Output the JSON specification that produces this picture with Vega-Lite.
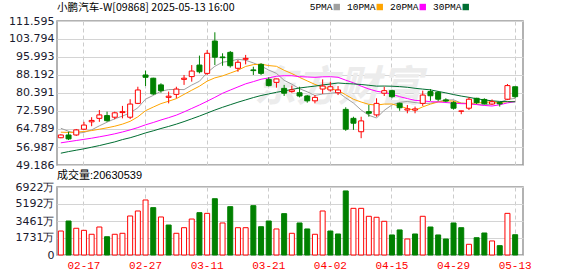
{
"$schema": "https://vega.github.io/schema/vega-lite/v6.json",
"padding": {"left": 5, "top": 2, "right": 5, "bottom": 0},
"spacing": -2,
"background": "white",
"datasets": {"k": [
{"d":"02-12","o":61.0,"h":62.5,"l":60.8,"c":62.2,"v":2440,"up":true,"5PMA":65.1,"10PMA":63.4,"20PMA":58.8,"30PMA":54.3},
{"d":"02-13","o":62.2,"h":63.6,"l":60.0,"c":60.5,"v":3460,"up":false,"5PMA":63.8,"10PMA":63.3,"20PMA":59.3,"30PMA":55.0},
{"d":"02-14","o":62.2,"h":64.8,"l":61.8,"c":64.4,"v":2720,"up":true,"5PMA":62.9,"10PMA":63.4,"20PMA":59.8,"30PMA":55.6},
{"d":"02-17","o":64.7,"h":67.9,"l":64.4,"c":66.5,"v":2510,"up":true,"5PMA":63.3,"10PMA":63.7,"20PMA":60.3,"30PMA":56.2},
{"d":"02-18","o":67.9,"h":69.9,"l":66.0,"c":68.5,"v":2110,"up":true,"5PMA":64.42,"10PMA":64.1,"20PMA":60.8,"30PMA":56.9},
{"d":"02-19","o":69.4,"h":73.0,"l":67.9,"c":70.9,"v":2850,"up":true,"5PMA":66.16,"10PMA":64.7,"20PMA":61.4,"30PMA":57.6},
{"d":"02-20","o":70.6,"h":72.3,"l":67.9,"c":68.4,"v":1860,"up":false,"5PMA":67.74,"10PMA":65.3,"20PMA":62.0,"30PMA":58.4},
{"d":"02-21","o":69.9,"h":72.3,"l":69.0,"c":71.8,"v":2110,"up":true,"5PMA":69.22,"10PMA":66.0,"20PMA":62.7,"30PMA":59.2},
{"d":"02-24","o":71.9,"h":74.8,"l":69.4,"c":72.3,"v":2210,"up":true,"5PMA":70.38,"10PMA":66.9,"20PMA":63.5,"30PMA":60.2},
{"d":"02-25","o":69.9,"h":77.7,"l":69.1,"c":75.6,"v":3970,"up":true,"5PMA":71.8,"10PMA":68.11,"20PMA":64.4,"30PMA":61.0},
{"d":"02-26","o":75.9,"h":83.1,"l":75.6,"c":81.7,"v":4480,"up":true,"5PMA":73.96,"10PMA":70.06,"20PMA":65.4,"30PMA":62.0},
{"d":"02-27","o":88.2,"h":90.1,"l":83.4,"c":87.2,"v":5600,"up":true,"5PMA":77.72,"10PMA":72.73,"20PMA":66.6,"30PMA":63.1},
{"d":"02-28","o":86.8,"h":87.0,"l":79.5,"c":80.0,"v":4820,"up":false,"5PMA":79.36,"10PMA":74.29,"20PMA":67.6,"30PMA":64.0},
{"d":"03-03","o":83.9,"h":84.6,"l":80.5,"c":81.4,"v":3870,"up":true,"5PMA":81.18,"10PMA":75.78,"20PMA":68.7,"30PMA":65.0},
{"d":"03-04","o":78.5,"h":81.0,"l":75.9,"c":79.0,"v":3050,"up":false,"5PMA":81.86,"10PMA":76.83,"20PMA":69.7,"30PMA":65.9},
{"d":"03-05","o":79.8,"h":83.1,"l":78.1,"c":82.1,"v":2210,"up":true,"5PMA":81.94,"10PMA":77.95,"20PMA":70.8,"30PMA":66.9},
{"d":"03-06","o":86.3,"h":88.2,"l":83.9,"c":86.8,"v":2780,"up":true,"5PMA":81.86,"10PMA":79.79,"20PMA":72.2,"30PMA":68.0},
{"d":"03-07","o":87.5,"h":92.5,"l":85.3,"c":89.9,"v":3660,"up":true,"5PMA":83.84,"10PMA":81.6,"20PMA":73.7,"30PMA":69.2},
{"d":"03-10","o":92.5,"h":96.6,"l":88.9,"c":89.6,"v":4310,"up":false,"5PMA":85.48,"10PMA":83.33,"20PMA":75.2,"30PMA":70.4},
{"d":"03-11","o":88.9,"h":99.0,"l":88.2,"c":97.6,"v":4240,"up":true,"5PMA":89.2,"10PMA":85.53,"20PMA":76.82,"30PMA":71.7},
{"d":"03-12","o":102.9,"h":106.7,"l":92.5,"c":95.9,"v":5730,"up":false,"5PMA":91.96,"10PMA":86.95,"20PMA":78.5,"30PMA":73.0},
{"d":"03-13","o":96.0,"h":97.6,"l":92.2,"c":95.7,"v":3260,"up":true,"5PMA":93.74,"10PMA":87.8,"20PMA":80.27,"30PMA":74.2},
{"d":"03-14","o":98.0,"h":98.6,"l":91.4,"c":92.2,"v":4920,"up":false,"5PMA":94.2,"10PMA":89.02,"20PMA":81.66,"30PMA":75.3},
{"d":"03-17","o":91.1,"h":94.7,"l":89.6,"c":93.7,"v":2780,"up":true,"5PMA":95.02,"10PMA":90.25,"20PMA":83.02,"30PMA":76.4},
{"d":"03-18","o":95.0,"h":96.9,"l":92.8,"c":95.4,"v":2780,"up":true,"5PMA":94.58,"10PMA":91.89,"20PMA":84.36,"30PMA":77.4},
{"d":"03-19","o":90.4,"h":91.8,"l":88.2,"c":90.1,"v":5020,"up":false,"5PMA":93.42,"10PMA":92.69,"20PMA":85.32,"30PMA":78.4},
{"d":"03-20","o":92.8,"h":93.3,"l":88.2,"c":88.9,"v":2880,"up":false,"5PMA":92.06,"10PMA":92.9,"20PMA":86.35,"30PMA":79.3},
{"d":"03-21","o":86.3,"h":87.2,"l":83.2,"c":83.6,"v":3460,"up":false,"5PMA":90.34,"10PMA":92.27,"20PMA":86.94,"30PMA":80.0},
{"d":"03-24","o":85.0,"h":86.6,"l":82.7,"c":86.5,"v":2650,"up":true,"5PMA":88.9,"10PMA":91.96,"20PMA":87.65,"30PMA":80.7},
{"d":"03-25","o":82.4,"h":83.9,"l":79.1,"c":80.3,"v":4210,"up":false,"5PMA":85.88,"10PMA":90.23,"20PMA":87.88,"30PMA":81.29},
{"d":"03-26","o":81.0,"h":83.6,"l":80.5,"c":81.7,"v":2210,"up":true,"5PMA":84.2,"10PMA":88.81,"20PMA":87.88,"30PMA":81.94},
{"d":"03-27","o":80.5,"h":83.1,"l":78.5,"c":79.1,"v":3260,"up":false,"5PMA":82.24,"10PMA":87.15,"20PMA":87.48,"30PMA":82.56},
{"d":"03-28","o":79.1,"h":79.5,"l":76.2,"c":77.0,"v":2650,"up":false,"5PMA":80.92,"10PMA":85.63,"20PMA":87.33,"30PMA":82.98},
{"d":"03-31","o":77.0,"h":79.5,"l":75.9,"c":78.5,"v":2110,"up":true,"5PMA":79.32,"10PMA":84.11,"20PMA":87.18,"30PMA":83.38},
{"d":"04-01","o":82.1,"h":86.3,"l":80.0,"c":83.4,"v":4480,"up":true,"5PMA":79.94,"10PMA":82.91,"20PMA":87.4,"30PMA":83.88},
{"d":"04-02","o":81.7,"h":85.3,"l":81.0,"c":83.1,"v":2440,"up":false,"5PMA":80.22,"10PMA":82.21,"20PMA":87.45,"30PMA":84.28},
{"d":"04-03","o":80.5,"h":83.4,"l":79.5,"c":81.7,"v":2140,"up":false,"5PMA":80.74,"10PMA":81.49,"20PMA":87.2,"30PMA":84.73},
{"d":"04-07","o":73.3,"h":74.2,"l":64.0,"c":64.7,"v":6520,"up":false,"5PMA":78.28,"10PMA":79.6,"20PMA":85.94,"30PMA":84.49},
{"d":"04-08","o":69.4,"h":70.1,"l":64.4,"c":67.3,"v":4750,"up":true,"5PMA":76.04,"10PMA":77.68,"20PMA":84.82,"30PMA":84.32},
{"d":"04-09","o":63.6,"h":70.1,"l":60.8,"c":68.3,"v":4750,"up":true,"5PMA":73.02,"10PMA":76.48,"20PMA":83.36,"30PMA":84.08},
{"d":"04-10","o":72.3,"h":75.2,"l":70.1,"c":71.6,"v":3940,"up":true,"5PMA":70.72,"10PMA":75.47,"20PMA":82.14,"30PMA":83.74},
{"d":"04-11","o":70.9,"h":78.1,"l":70.1,"c":75.9,"v":3840,"up":true,"5PMA":69.56,"10PMA":75.15,"20PMA":81.15,"30PMA":83.37},
{"d":"04-14","o":80.3,"h":83.1,"l":79.1,"c":81.4,"v":3430,"up":true,"5PMA":72.9,"10PMA":75.59,"20PMA":80.61,"30PMA":83.41},
{"d":"04-15","o":81.4,"h":81.8,"l":78.1,"c":78.8,"v":2040,"up":false,"5PMA":75.2,"10PMA":75.62,"20PMA":79.87,"30PMA":83.33},
{"d":"04-16","o":75.9,"h":76.2,"l":72.7,"c":74.0,"v":2550,"up":false,"5PMA":76.34,"10PMA":74.68,"20PMA":78.8,"30PMA":83.16},
{"d":"04-17","o":73.0,"h":75.2,"l":71.6,"c":73.5,"v":1630,"up":true,"5PMA":76.72,"10PMA":73.72,"20PMA":77.97,"30PMA":82.87},
{"d":"04-22","o":73.0,"h":74.5,"l":71.6,"c":73.5,"v":2140,"up":false,"5PMA":76.24,"10PMA":72.9,"20PMA":77.2,"30PMA":82.43},
{"d":"04-23","o":75.9,"h":81.4,"l":74.8,"c":79.5,"v":3940,"up":true,"5PMA":75.86,"10PMA":74.38,"20PMA":76.99,"30PMA":82.08},
{"d":"04-24","o":81.0,"h":82.1,"l":77.0,"c":79.2,"v":2850,"up":false,"5PMA":75.94,"10PMA":75.57,"20PMA":76.63,"30PMA":81.74},
{"d":"04-25","o":80.7,"h":81.3,"l":76.9,"c":77.7,"v":2040,"up":false,"5PMA":76.68,"10PMA":76.51,"20PMA":76.5,"30PMA":81.07},
{"d":"04-28","o":77.4,"h":78.1,"l":76.4,"c":76.9,"v":1630,"up":false,"5PMA":77.36,"10PMA":77.04,"20PMA":76.26,"30PMA":80.44},
{"d":"04-29","o":76.2,"h":76.8,"l":73.2,"c":73.8,"v":3260,"up":false,"5PMA":77.42,"10PMA":76.83,"20PMA":75.99,"30PMA":79.71},
{"d":"04-30","o":72.5,"h":72.7,"l":71.2,"c":72.6,"v":2780,"up":false,"5PMA":76.04,"10PMA":75.95,"20PMA":75.77,"30PMA":79.06},
{"d":"05-02","o":73.8,"h":78.5,"l":73.0,"c":77.7,"v":1090,"up":true,"5PMA":75.74,"10PMA":75.84,"20PMA":75.73,"30PMA":78.52},
{"d":"05-06","o":78.1,"h":78.3,"l":75.6,"c":76.2,"v":1760,"up":false,"5PMA":75.44,"10PMA":76.06,"20PMA":75.37,"30PMA":77.88},
{"d":"05-07","o":77.6,"h":78.1,"l":75.4,"c":75.7,"v":2240,"up":false,"5PMA":75.2,"10PMA":76.28,"20PMA":75.0,"30PMA":77.4},
{"d":"05-08","o":75.6,"h":77.6,"l":75.2,"c":76.6,"v":1430,"up":true,"5PMA":75.76,"10PMA":76.59,"20PMA":74.75,"30PMA":76.99},
{"d":"05-09","o":76.2,"h":76.4,"l":74.5,"c":75.7,"v":950,"up":false,"5PMA":76.38,"10PMA":76.21,"20PMA":75.3,"30PMA":76.73},
{"d":"05-12","o":77.7,"h":84.3,"l":77.3,"c":83.6,"v":4240,"up":true,"5PMA":77.56,"10PMA":76.65,"20PMA":76.11,"30PMA":76.63},
{"d":"05-13","o":83.1,"h":83.1,"l":78.1,"c":78.8,"v":2063,"up":false,"5PMA":78.08,"10PMA":76.76,"20PMA":76.64,"30PMA":76.58}
]},
"data": {"name": "k"},
"config": {
  "view": {"stroke": "#999", "strokeWidth": 1.5},
  "axis": {"gridColor": "#d4d4d4", "gridWidth": 1, "domain": false, "ticks": false, "labelFont": "DejaVu Sans", "labelFontSize": 11, "labelColor": "#1a1a2e", "labelOverlap": false},
  "axisY": {"minExtent": 51, "maxExtent": 51, "labelPadding": 3, "labelOverlap": false},
  "title": {"fontWeight": "normal", "color": "#000", "anchor": "start", "frame": "group"}
},
"vconcat": [
{
  "width": 466, "height": 144,
  "title": {"text": "小鹏汽车-W[09868] 2025-05-13 16:00", "font": "Noto Sans CJK SC", "fontSize": 10.6, "offset": 1},
  "encoding": {
    "x": {"field": "d", "type": "ordinal", "sort": "ascending",
      "scale": {"paddingInner": 0, "paddingOuter": 0.26, "align": 0},
      "axis": {"values": ["02-17","02-27","03-11","03-21","04-02","04-15","04-29","05-13"], "labels": false, "title": null, "grid": true, "gridDash": [4, 3], "gridColor": "#cccccc", "bandPosition": 0.5, "minExtent": 0, "maxExtent": 0}}
  },
  "layer": [
    {
      "data": {"values": [{"t": "东方财富"}]},
      "mark": {"type": "text", "font": "Noto Sans CJK SC", "fontSize": 42, "fontWeight": "bold", "fontStyle": "italic", "color": "#ececec"},
      "encoding": {
        "x": {"datum": "04-03", "type": "ordinal"},
        "y": {"datum": 82.5, "type": "quantitative", "axis": {"title": null, "values": [49.186, 56.987, 64.789, 72.590, 80.391, 88.192, 95.993, 103.794, 111.595], "format": ".3f", "grid": true, "labelOverlap": false}},
        "text": {"field": "t"}
      }
    },
    {
      "transform": [{"fold": ["5PMA", "10PMA", "20PMA", "30PMA"], "as": ["ma", "val"]}],
      "mark": {"type": "line", "strokeWidth": 1},
      "encoding": {
        "y": {"field": "val", "type": "quantitative", "title": null,
          "scale": {"domain": [49.186, 111.595], "zero": false, "nice": false},
          "axis": {"title": null, "values": [49.186, 56.987, 64.789, 72.590, 80.391, 88.192, 95.993, 103.794, 111.595], "format": ".3f", "grid": true, "labelOverlap": false}},
        "color": {"field": "ma", "type": "nominal",
          "scale": {"domain": ["5PMA", "10PMA", "20PMA", "30PMA"], "range": ["#a0a0a0", "#ffa500", "#ff00ff", "#006e32"]},
          "legend": {"orient": "none", "legendX": 275, "legendY": -19, "direction": "horizontal", "title": null, "symbolType": "square", "symbolSize": 2, "symbolStrokeWidth": 5, "labelFont": "Liberation Mono", "labelFontSize": 9.5, "labelColor": "#000", "labelAlign": "right", "labelOffset": -9, "columnPadding": -2, "labelLimit": 0}}
      }
    },
    {
      "mark": {"type": "rule", "strokeWidth": 1},
      "encoding": {
        "y": {"field": "l", "type": "quantitative", "title": null, "axis": {"title": null, "values": [49.186, 56.987, 64.789, 72.590, 80.391, 88.192, 95.993, 103.794, 111.595], "format": ".3f", "grid": true, "labelOverlap": false}},
        "y2": {"field": "h"},
        "color": {"condition": {"test": "datum.c >= datum.o", "value": "#ff0000"}, "value": "#008000"}
      }
    },
    {
      "mark": {"type": "bar", "size": 5, "strokeWidth": 1},
      "encoding": {
        "y": {"field": "o", "type": "quantitative", "title": null, "axis": {"title": null, "values": [49.186, 56.987, 64.789, 72.590, 80.391, 88.192, 95.993, 103.794, 111.595], "format": ".3f", "grid": true, "labelOverlap": false}},
        "y2": {"field": "c"},
        "fill": {"condition": {"test": "datum.c >= datum.o", "value": "#ffffff"}, "value": "#008000"},
        "stroke": {"condition": {"test": "datum.c >= datum.o", "value": "#ff0000"}, "value": "#008000"}
      }
    }
  ]
},
{
  "width": 466, "height": 68,
  "title": {"text": "成交量:20630539", "font": "Liberation Sans, Noto Sans CJK SC", "fontSize": 11, "offset": 0},
  "mark": {"type": "bar", "size": 5, "strokeWidth": 1},
  "encoding": {
    "x": {"field": "d", "type": "ordinal", "sort": "ascending",
      "scale": {"paddingInner": 0, "paddingOuter": 0.26, "align": 0},
      "axis": {"values": ["02-17","02-27","03-11","03-21","04-02","04-15","04-29","05-13"], "title": null, "labelAngle": 0, "labelColor": "#ff0000", "labelFont": "Liberation Mono", "labelFontSize": 11, "labelPadding": 4, "grid": true, "gridDash": [4, 3], "gridColor": "#cccccc", "bandPosition": 0.5}},
    "y": {"field": "v", "type": "quantitative", "title": null,
      "scale": {"domain": [0, 6922], "nice": false},
      "axis": {"title": null, "values": [0, 1731, 3461, 5192, 6922], "labelExpr": "datum.value == 0 ? '0' : datum.value + '万'", "grid": true}},
    "fill": {"condition": {"test": "datum.up", "value": "#ffffff"}, "value": "#008000"},
    "stroke": {"condition": {"test": "datum.up", "value": "#ff0000"}, "value": "#008000"}
  }
}
]
}
